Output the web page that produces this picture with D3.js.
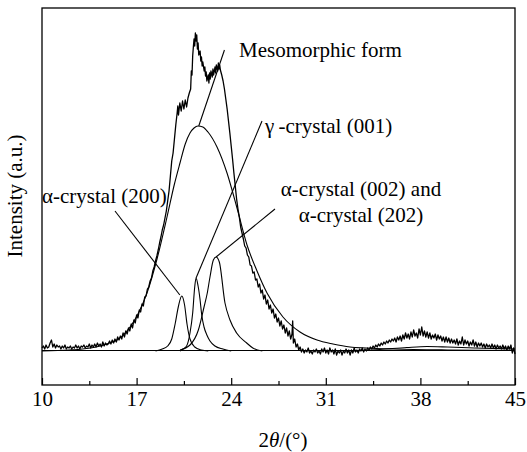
<!DOCTYPE html>
<html>
<head>
<meta charset="utf-8">
<script src="https://cdn.jsdelivr.net/npm/d3@7"></script>
<style>
  body { margin: 0; background: #fff; }
</style>
</head>
<body>
<div id="chart"></div>
<script>
// x ticks (2theta, degrees)
const xTicks = [10, 17, 24, 31, 38, 45];
const xMinorTicks = [13.5, 20.5, 27.5, 34.5, 41.5];

// measured XRD scan [2theta, intensity a.u.]
const scan = [
  [10.0,3],[10.1,5],[10.2,2],[10.3,6],[10.4,3],[10.5,4],[10.6,8],[10.7,11],[10.8,4],[10.9,7],
  [11.0,3],[11.1,6],[11.2,4],[11.3,5],[11.4,2],[11.5,5],[11.6,3],[11.7,6],[11.8,2],[11.9,4],
  [12.0,3],[12.1,5],[12.2,2],[12.3,4],[12.4,3],[12.5,6],[12.6,3],[12.7,5],[12.8,2],[12.9,5],
  [13.0,4],[13.1,6],[13.2,3],[13.3,5],[13.4,4],[13.5,7],[13.6,3],[13.7,6],[13.8,4],[13.9,7],
  [14.0,4],[14.1,8],[14.2,5],[14.3,7],[14.4,4],[14.5,9],[14.6,5],[14.7,8],[14.8,6],[14.9,7],
  [15.0,10],[15.1,7],[15.2,11],[15.3,8],[15.4,12],[15.5,9],[15.6,14],[15.7,11],[15.8,15],[15.9,12],
  [16.0,18],[16.1,14],[16.2,20],[16.3,17],[16.4,23],[16.5,20],[16.6,27],[16.7,23],[16.8,31],[16.9,28],
  [17.0,36],[17.1,33],[17.2,41],[17.3,39],[17.4,47],[17.5,45],[17.6,54],[17.7,55],[17.8,62],[17.9,64],
  [18.0,70],[18.1,73],[18.2,80],[18.3,84],[18.4,90],[18.5,95],[18.6,101],[18.7,108],[18.8,114],[18.9,121],
  [19.0,126],[19.1,133],[19.2,140],[19.3,150],[19.4,160],[19.5,175],[19.6,190],[19.7,198],[19.8,212],[19.9,226],
  [20.0,238],[20.05,245],[20.1,236],[20.2,248],[20.3,240],[20.4,250],[20.5,242],[20.6,251],[20.7,244],[20.8,253],
  [20.9,258],[21.0,262],[21.05,280],[21.1,276],[21.15,295],[21.2,304],[21.25,312],[21.3,305],[21.35,318],[21.4,310],
  [21.45,316],[21.5,302],[21.55,308],[21.6,296],[21.7,300],[21.75,290],[21.8,294],[21.85,285],[21.9,289],[22.0,280],
  [22.05,284],[22.1,275],[22.15,279],[22.2,270],[22.3,276],[22.35,268],[22.4,278],[22.45,272],[22.5,280],[22.6,274],
  [22.65,282],[22.7,276],[22.8,284],[22.85,278],[22.9,286],[23.0,280],[23.05,288],[23.1,282],[23.15,286],[23.2,281],
  [23.3,276],[23.4,270],[23.5,262],[23.6,252],[23.7,242],[23.8,230],[23.9,218],[24.0,205],[24.1,192],[24.2,178],
  [24.3,165],[24.4,152],[24.5,142],[24.6,134],[24.7,124],[24.8,118],[24.9,112],[25.0,105],[25.1,103],[25.2,96],
  [25.3,94],[25.4,86],[25.5,85],[25.6,78],[25.7,79],[25.8,71],[25.9,72],[26.0,64],[26.1,67],[26.2,58],
  [26.3,61],[26.4,52],[26.5,56],[26.6,47],[26.7,51],[26.8,42],[26.9,46],[27.0,38],[27.1,42],[27.2,33],
  [27.3,37],[27.4,29],[27.5,33],[27.6,25],[27.7,30],[27.8,22],[27.9,26],[28.0,18],[28.1,23],[28.2,15],
  [28.3,20],[28.4,12],[28.5,17],[28.55,30],[28.6,8],[28.7,12],[28.8,4],[28.9,7],[29.0,1],[29.1,4],
  [29.2,-1],[29.3,2],[29.4,-2],[29.5,1],[29.6,-1],[29.7,3],[29.8,-2],[29.9,0],[30.0,-3],[30.1,1],
  [30.2,-1],[30.3,2],[30.4,-2],[30.5,0],[30.6,-3],[30.7,2],[30.8,-1],[30.9,3],[31.0,-2],[31.1,1],
  [31.2,-3],[31.3,3],[31.4,-1],[31.5,1],[31.6,-3],[31.7,2],[31.8,-4],[31.9,0],[32.0,-2],[32.1,1],
  [32.2,-4],[32.3,0],[32.4,-2],[32.5,2],[32.6,-2],[32.7,1],[32.8,-4],[32.9,1],[33.0,-2],[33.1,3],
  [33.2,-1],[33.3,1],[33.4,-2],[33.5,2],[33.6,0],[33.7,3],[33.8,-1],[33.9,2],[34.0,0],[34.1,3],
  [34.2,1],[34.3,4],[34.4,2],[34.5,5],[34.6,3],[34.7,6],[34.8,4],[34.9,7],[35.0,5],[35.1,8],
  [35.2,6],[35.3,9],[35.4,7],[35.5,10],[35.6,8],[35.7,11],[35.8,9],[35.9,12],[36.0,10],[36.1,13],
  [36.2,9],[36.3,14],[36.4,11],[36.5,15],[36.6,10],[36.7,16],[36.8,12],[36.9,18],[37.0,13],[37.1,17],
  [37.2,12],[37.3,19],[37.4,14],[37.5,21],[37.6,15],[37.7,18],[37.8,13],[37.9,22],[38.0,16],[38.1,24],
  [38.2,15],[38.3,20],[38.4,14],[38.5,19],[38.6,13],[38.7,18],[38.8,12],[38.9,16],[39.0,13],[39.1,17],
  [39.2,11],[39.3,16],[39.4,12],[39.5,15],[39.6,10],[39.7,14],[39.8,9],[39.9,14],[40.0,9],[40.1,13],
  [40.2,8],[40.3,12],[40.4,8],[40.5,11],[40.6,7],[40.7,12],[40.8,6],[40.9,10],[41.0,7],[41.1,14],
  [41.2,6],[41.3,11],[41.4,7],[41.5,10],[41.6,5],[41.7,9],[41.8,6],[41.9,11],[42.0,5],[42.1,9],
  [42.2,4],[42.3,8],[42.4,5],[42.5,8],[42.6,4],[42.7,7],[42.8,3],[42.9,7],[43.0,4],[43.1,6],
  [43.2,3],[43.3,7],[43.4,3],[43.5,6],[43.6,2],[43.7,6],[43.8,3],[43.9,5],[44.0,2],[44.1,6],
  [44.2,2],[44.3,5],[44.4,1],[44.5,5],[44.6,2],[44.7,6],[44.8,-2],[44.9,3],[45.0,-3]
];

// fitted components [2theta, intensity]
const mesomorphic = [
  [10,0],[12,1],[13,2],[14,4],[15,8],[15.55,11],[16.29,20],[17.03,35],[17.77,58],[18.51,92],
  [19.25,134],[19.8,167],[20.21,188],[20.6,207],[20.95,218],[21.25,223],[21.54,225],[21.9,224],
  [22.28,219],[22.95,204],[23.69,178],[24.43,143],[25.17,106],[25.91,80],[26.65,58],[27.83,34],
  [29.09,19],[30.35,11],[31.53,7],[32.79,4],[34,3],[36,2],[40,1],[45,0.5]
];
const alpha200 = [
  [18.4,0],[18.9,2],[19.3,5],[19.6,12],[19.85,27],[20.1,45],[20.34,55],[20.55,46],[20.73,27],
  [20.95,12],[21.3,4],[21.8,1],[22.3,0]
];
const gamma001 = [
  [20.2,0],[20.43,2],[20.7,5],[20.95,18],[21.15,38],[21.3,64],[21.4,73],[21.55,65],[21.69,52],
  [21.82,36],[21.99,24],[22.2,16],[22.43,10],[22.8,5],[23.39,2],[24,0]
];
const alpha002 = [
  [20.21,1],[20.95,6],[21.57,21],[21.99,44],[22.23,58],[22.43,74],[22.68,91],[22.88,94],[23.12,89],
  [23.54,48],[23.91,31],[24.4,18],[25.15,8],[25.6,3],[26.3,0]
];
const amorphousHump = [
  [33,0],[35,1.5],[37,3.5],[38.5,4.5],[40,4],[42,3],[45,2]
];
const baseline = [[10,0.5],[45,0.5]];

// annotation leaders [2theta, I] -> [2theta, I]
const leaders = [
  { from: [23.5, 301], to: [21.6, 225] },
  { from: [26.28, 230], to: [21.4, 73] },
  { from: [15.4, 140], to: [20.2, 56] },
  { from: [27.24, 142], to: [22.88, 94] }
];

const W = 527, H = 452;
const margin = { top: 8, right: 12, bottom: 67, left: 42 };
const FONT = '"Liberation Serif"';

const svg = d3.select('#chart').append('svg')
  .attr('width', W)
  .attr('height', H);

const x = d3.scaleLinear().domain([10, 45]).range([margin.left, W - margin.right]);
const y = d3.scaleLinear().domain([-34, 343]).range([H - margin.bottom, margin.top]);

// frame
svg.append('rect')
  .attr('x', x(10)).attr('y', y(343))
  .attr('width', x(45) - x(10)).attr('height', y(-34) - y(343))
  .attr('fill', 'none').attr('stroke', '#000').attr('stroke-width', 1.3);

// bottom axis, ticks pointing inward
const xAxis = d3.axisBottom(x).tickValues(xTicks).tickSize(-7).tickPadding(6)
  .tickFormat(d3.format('d'));
const gx = svg.append('g')
  .attr('transform', `translate(0,${y(-34)})`)
  .call(xAxis);
gx.select('.domain').remove();
gx.selectAll('line').attr('stroke', '#000').attr('stroke-width', 1.2);
gx.selectAll('text')
  .attr('fill', '#000')
  .style('font-family', FONT)
  .style('font-size', '21px');

const gxm = svg.append('g')
  .attr('transform', `translate(0,${y(-34)})`)
  .call(d3.axisBottom(x).tickValues(xMinorTicks).tickSize(-4).tickFormat(''));
gxm.select('.domain').remove();
gxm.selectAll('line').attr('stroke', '#000').attr('stroke-width', 1.2);

// curves
const smooth = d3.line().x(d => x(d[0])).y(d => y(d[1])).curve(d3.curveMonotoneX);
const raw = d3.line().x(d => x(d[0])).y(d => y(d[1]));

[baseline, amorphousHump, mesomorphic, alpha200, gamma001, alpha002].forEach(c => {
  svg.append('path')
    .datum(c)
    .attr('d', smooth)
    .attr('fill', 'none')
    .attr('stroke', '#000')
    .attr('stroke-width', 1.1);
});

svg.append('path')
  .datum(scan)
  .attr('d', raw)
  .attr('fill', 'none')
  .attr('stroke', '#000')
  .attr('stroke-width', 1.3)
  .attr('stroke-linejoin', 'round');

// leader lines
svg.selectAll('.leader')
  .data(leaders)
  .enter().append('line')
  .attr('class', 'leader')
  .attr('x1', d => x(d.from[0])).attr('y1', d => y(d.from[1]))
  .attr('x2', d => x(d.to[0])).attr('y2', d => y(d.to[1]))
  .attr('stroke', '#000').attr('stroke-width', 1.1);

// labels
const label = (txt, px, py, anchor) => svg.append('text')
  .attr('x', px).attr('y', py)
  .attr('text-anchor', anchor || 'start')
  .style('font-family', FONT)
  .style('font-size', '21px')
  .text(txt);

label('Mesomorphic form', 239, 57);
label('\u03b3\u2009-crystal (001)', 265, 133);
label('\u03b1-crystal (200)', 42, 203);
label('\u03b1-crystal (002) and', 361, 196, 'middle');
label('\u03b1-crystal (202)', 361, 222, 'middle');

// axis titles
const xt = svg.append('text')
  .attr('x', 283).attr('y', 447)
  .attr('text-anchor', 'middle')
  .style('font-family', FONT)
  .style('font-size', '21px');
xt.append('tspan').text('2');
xt.append('tspan').style('font-style', 'italic').text('\u03b8');
xt.append('tspan').text('/(\u00b0)');

svg.append('text')
  .attr('transform', 'translate(22,196) rotate(-90)')
  .attr('text-anchor', 'middle')
  .style('font-family', FONT)
  .style('font-size', '21px')
  .text('Intensity (a.u.)');
</script>
</body>
</html>
